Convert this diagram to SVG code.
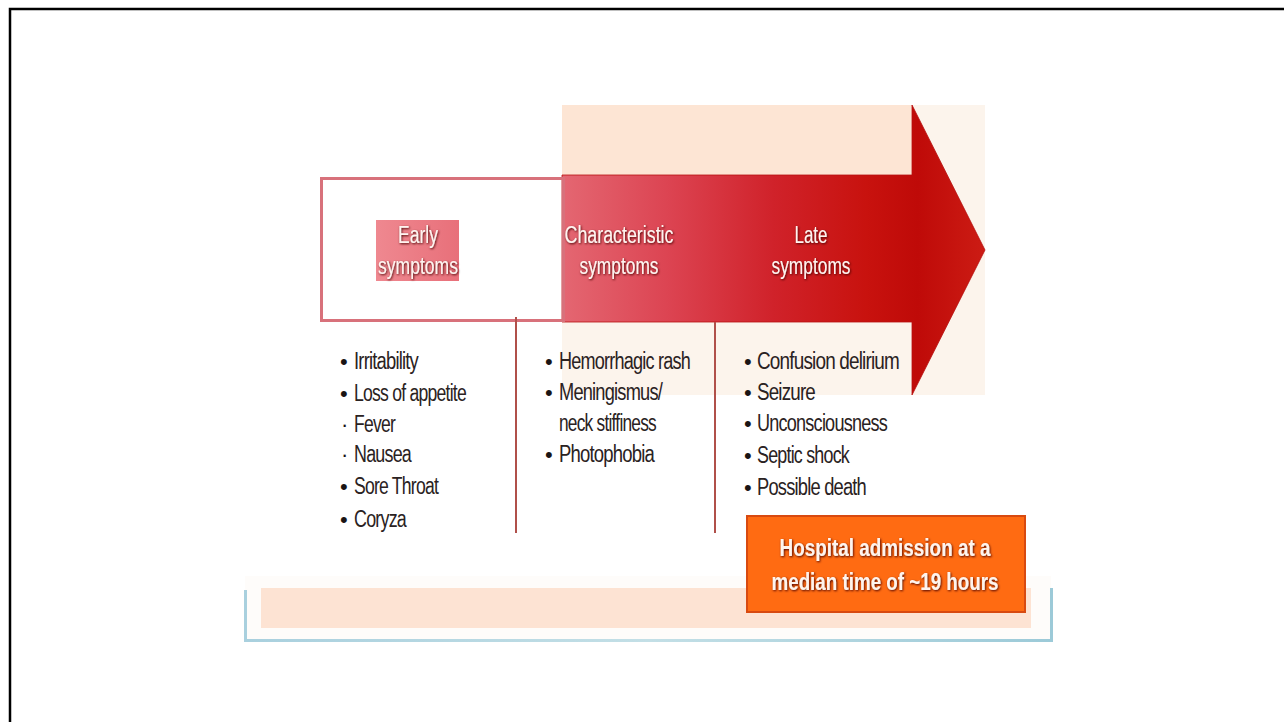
<svg xmlns="http://www.w3.org/2000/svg" width="1284" height="722" viewBox="0 0 1284 722">
<style>
.item{font-family:"Liberation Sans",Arial,sans-serif;font-size:23px;fill:#2a2222;letter-spacing:-1px}
.bul{font-family:"Liberation Sans",Arial,sans-serif;font-size:22px;fill:#1a1414}
.head{font-family:"Liberation Sans",Arial,sans-serif;font-size:23px;fill:#fff4f0;text-anchor:middle}
.hosp{font-family:"Liberation Sans",Arial,sans-serif;font-size:23px;font-weight:bold;fill:#fff4ee;text-anchor:middle}
.vline{stroke:#b0504a;stroke-width:2;fill:none}
</style>
<defs>
<linearGradient id="arrowGrad" x1="562" y1="0" x2="985" y2="0" gradientUnits="userSpaceOnUse">
<stop offset="0" stop-color="#e46772"/>
<stop offset="0.25" stop-color="#dc4452"/>
<stop offset="0.5" stop-color="#d0222a"/>
<stop offset="0.72" stop-color="#c8120e"/>
<stop offset="0.84" stop-color="#bf0a08"/>
<stop offset="1" stop-color="#cc1c14"/>
</linearGradient>
<linearGradient id="earlyGrad" x1="0" y1="0" x2="1" y2="0">
<stop offset="0" stop-color="#ef8890"/>
<stop offset="1" stop-color="#e8707a"/>
</linearGradient>
<linearGradient id="blueGrad" x1="0" y1="0" x2="1" y2="0">
<stop offset="0" stop-color="#a9d0de"/>
<stop offset="0.5" stop-color="#c3dfe6"/>
<stop offset="1" stop-color="#9ccad8"/>
</linearGradient>
<filter id="shadow" x="-20%" y="-30%" width="140%" height="160%">
<feDropShadow dx="0.8" dy="1" stdDeviation="1" flood-color="#4a0606" flood-opacity="1"/>
</filter>
</defs>

<rect x="10" y="9" width="1320" height="760" fill="#ffffff" stroke="#000" stroke-width="2.5"/>

<g id="background-panels">
<rect x="562" y="105" width="423" height="290" fill="#fcf4ec"/>
<rect x="562" y="105" width="350" height="70" fill="#fde5d4"/>
<rect x="245" y="576" width="806" height="64" fill="#fefcfa"/>
<rect x="261" y="588" width="770" height="40" fill="#fde3d3"/>
<path d="M245.5 590 V640.5 H1051.5 V588" fill="none" stroke="url(#blueGrad)" stroke-width="3"/>
</g>

<g id="arrow">
<path d="M562 175 H912 V105 L985 250 L912 395 V322 H562 Z" fill="url(#arrowGrad)" stroke="#b81010" stroke-width="0.8"/>
</g>

<g id="early">
<rect x="321.5" y="178.5" width="242" height="142" fill="none" stroke="#d8717b" stroke-width="3"/>
<rect x="376" y="220" width="83" height="61" fill="url(#earlyGrad)"/>
<text class="head" x="418" y="243" textLength="40" lengthAdjust="spacingAndGlyphs" filter="url(#shadow)">Early</text>
<text class="head" x="418" y="274" textLength="80" lengthAdjust="spacingAndGlyphs" filter="url(#shadow)">symptoms</text>
</g>

<g id="characteristic">
<text class="head" x="619" y="243" textLength="109" lengthAdjust="spacingAndGlyphs" filter="url(#shadow)">Characteristic</text>
<text class="head" x="619" y="274" textLength="79" lengthAdjust="spacingAndGlyphs" filter="url(#shadow)">symptoms</text>
</g>

<g id="late">
<text class="head" x="811" y="243" textLength="33" lengthAdjust="spacingAndGlyphs" filter="url(#shadow)">Late</text>
<text class="head" x="811" y="274" textLength="79" lengthAdjust="spacingAndGlyphs" filter="url(#shadow)">symptoms</text>
</g>

<g id="connectors">
<line class="vline" x1="516" y1="317" x2="516" y2="533"/>
<line class="vline" x1="715" y1="322" x2="715" y2="533"/>
</g>

<g id="early-list">
<text class="bul" x="340" y="369">•</text>
<text class="item" x="354" y="369" textLength="64" lengthAdjust="spacingAndGlyphs">Irritability</text>
<text class="bul" x="340" y="401">•</text>
<text class="item" x="354" y="401" textLength="112" lengthAdjust="spacingAndGlyphs">Loss of appetite</text>
<text class="bul" x="341" y="432" font-size="12">·</text>
<text class="item" x="354" y="432" textLength="41" lengthAdjust="spacingAndGlyphs">Fever</text>
<text class="bul" x="341" y="462" font-size="12">·</text>
<text class="item" x="354" y="462" textLength="57" lengthAdjust="spacingAndGlyphs">Nausea</text>
<text class="bul" x="340" y="494">•</text>
<text class="item" x="354" y="494" textLength="84" lengthAdjust="spacingAndGlyphs">Sore Throat</text>
<text class="bul" x="340" y="527">•</text>
<text class="item" x="354" y="527" textLength="52" lengthAdjust="spacingAndGlyphs">Coryza</text>
</g>

<g id="characteristic-list">
<text class="bul" x="545" y="369">•</text>
<text class="item" x="559" y="369" textLength="131" lengthAdjust="spacingAndGlyphs">Hemorrhagic rash</text>
<text class="bul" x="545" y="400">•</text>
<text class="item" x="559" y="400" textLength="103" lengthAdjust="spacingAndGlyphs">Meningismus/</text>
<text class="item" x="559" y="431" textLength="97" lengthAdjust="spacingAndGlyphs">neck stiffiness</text>
<text class="bul" x="545" y="462">•</text>
<text class="item" x="559" y="462" textLength="95" lengthAdjust="spacingAndGlyphs">Photophobia</text>
</g>

<g id="late-list">
<text class="bul" x="744" y="369">•</text>
<text class="item" x="757" y="369" textLength="142" lengthAdjust="spacingAndGlyphs">Confusion delirium</text>
<text class="bul" x="744" y="400">•</text>
<text class="item" x="757" y="400" textLength="58" lengthAdjust="spacingAndGlyphs">Seizure</text>
<text class="bul" x="744" y="431">•</text>
<text class="item" x="757" y="431" textLength="130" lengthAdjust="spacingAndGlyphs">Unconsciousness</text>
<text class="bul" x="744" y="463">•</text>
<text class="item" x="757" y="463" textLength="92" lengthAdjust="spacingAndGlyphs">Septic shock</text>
<text class="bul" x="744" y="495">•</text>
<text class="item" x="757" y="495" textLength="109" lengthAdjust="spacingAndGlyphs">Possible death</text>
</g>

<g id="hospital">
<rect x="747" y="516" width="278" height="96" fill="#ff6b12" stroke="#d84a10" stroke-width="2"/>
<text class="hosp" x="885" y="556" textLength="211" lengthAdjust="spacingAndGlyphs" filter="url(#shadow)">Hospital admission at a</text>
<text class="hosp" x="885" y="590" textLength="227" lengthAdjust="spacingAndGlyphs" filter="url(#shadow)">median time of ~19 hours</text>
</g>
</svg>
